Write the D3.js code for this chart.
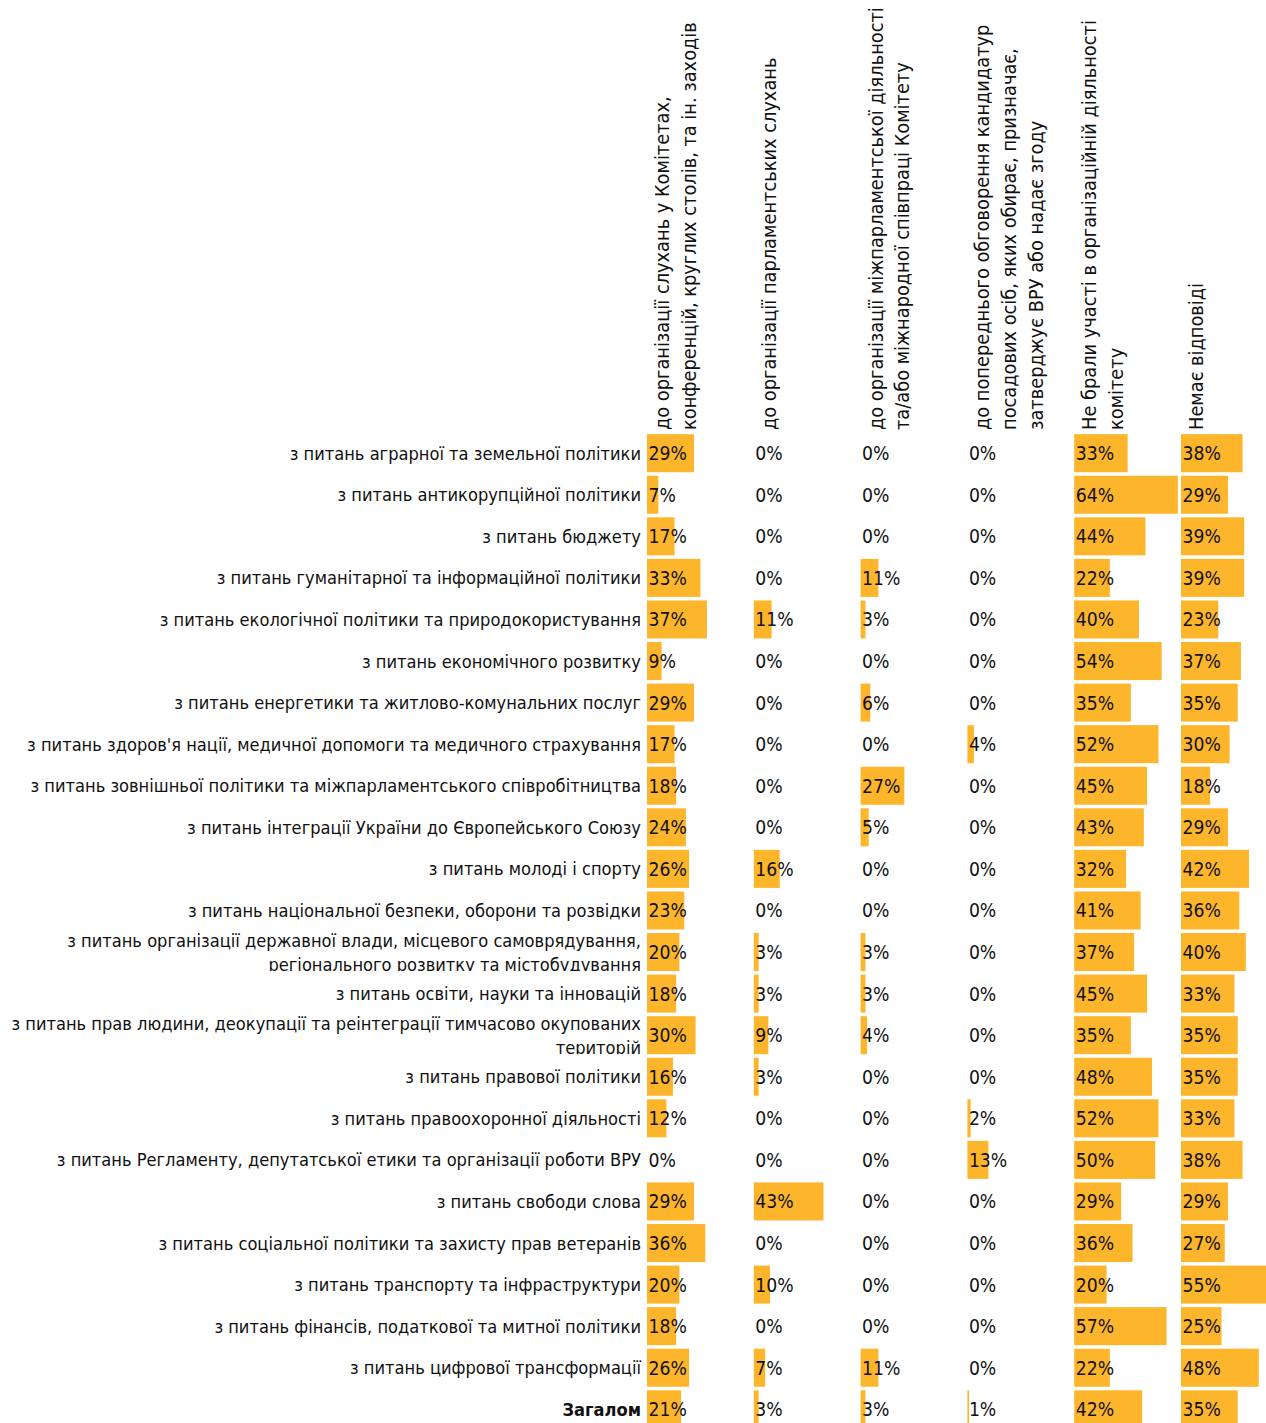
<!DOCTYPE html>
<html>
<head>
<meta charset="utf-8">
<script src="https://cdn.jsdelivr.net/npm/d3@7"></script>
<style>
  body { margin: 0; background: #fff; }
  svg text { font-family: "DejaVu Sans Condensed", "DejaVu Sans", sans-serif; fill: #111; }
</style>
</head>
<body>
<div id="chart"></div>
<script>
// committees (rows)
const committees = [
    "з питань аграрної та земельної політики",
    "з питань антикорупційної політики",
    "з питань бюджету",
    "з питань гуманітарної та інформаційної політики",
    "з питань екологічної політики та природокористування",
    "з питань економічного розвитку",
    "з питань енергетики та житлово-комунальних послуг",
    "з питань здоров'я нації, медичної допомоги та медичного страхування",
    "з питань зовнішньої політики та міжпарламентського співробітництва",
    "з питань інтеграції України до Європейського Союзу",
    "з питань молоді і спорту",
    "з питань національної безпеки, оборони та розвідки",
    "з питань організації державної влади, місцевого самоврядування,\nрегіонального розвитку та містобудування",
    "з питань освіти, науки та інновацій",
    "з питань прав людини, деокупації та реінтеграції тимчасово окупованих\nтериторій",
    "з питань правової політики",
    "з питань правоохоронної діяльності",
    "з питань Регламенту, депутатської етики та організації роботи ВРУ",
    "з питань свободи слова",
    "з питань соціальної політики та захисту прав ветеранів",
    "з питань транспорту та інфраструктури",
    "з питань фінансів, податкової та митної політики",
    "з питань цифрової трансформації",
    "Загалом"
];

// column headers, one array of lines each
const headers = [
    ["до організації слухань у Комітетах,", "конференцій, круглих столів, та ін. заходів"],
    ["до організації парламентських слухань"],
    ["до організації міжпарламентської діяльності", "та/або міжнародної співпраці Комітету"],
    ["до попереднього обговорення кандидатур", "посадових осіб, яких обирає, призначає,", "затверджує ВРУ або надає згоду"],
    ["Не брали участі в організаційній діяльності", "комітету"],
    ["Немає відповіді"]
];

// values, % (one array per column)
const hearings      = [29, 7, 17, 33, 37, 9, 29, 17, 18, 24, 26, 23, 20, 18, 30, 16, 12, 0, 29, 36, 20, 18, 26, 21];
const parlHearings  = [0, 0, 0, 0, 11, 0, 0, 0, 0, 0, 16, 0, 3, 3, 9, 3, 0, 0, 43, 0, 10, 0, 7, 3];
const interParl     = [0, 0, 0, 11, 3, 0, 6, 0, 27, 5, 0, 0, 3, 3, 4, 0, 0, 0, 0, 0, 0, 0, 11, 3];
const candidates    = [0, 0, 0, 0, 0, 0, 0, 4, 0, 0, 0, 0, 0, 0, 0, 0, 2, 13, 0, 0, 0, 0, 0, 1];
const noPart        = [33, 64, 44, 22, 40, 54, 35, 52, 45, 43, 32, 41, 37, 45, 35, 48, 52, 50, 29, 36, 20, 57, 22, 42];
const noAnswer      = [38, 29, 39, 39, 23, 37, 35, 30, 18, 29, 42, 36, 40, 33, 35, 35, 33, 38, 29, 27, 55, 25, 48, 35];

const series = [hearings, parlHearings, interParl, candidates, noPart, noAnswer];

const W = 1266, H = 1423;
const barColor = "#FDB52B";

const svg = d3.select("#chart").append("svg")
    .attr("width", W)
    .attr("height", H);

const y = d3.scaleBand()
    .domain(committees)
    .range([432.5, 1430])
    .paddingInner(0.085)
    .paddingOuter(0.04);

const x = d3.scaleBand()
    .domain(d3.range(series.length))
    .range([647, 647 + 106.8 * series.length]);

const w = d3.scaleLinear().domain([0, 100]).range([0, 162]);

// headers, rotated
const head = svg.selectAll(".head")
    .data(headers)
    .enter()
    .append("text")
    .attr("class", "head")
    .attr("transform", (d, i) => `translate(${x(i) + 22}, 430) rotate(-90)`)
    .style("font-size", "19.8px");

head.selectAll("tspan")
    .data(d => d)
    .enter()
    .append("tspan")
    .attr("x", 0)
    .attr("y", (d, i) => i * 26.7)
    .text(d => d);

// row labels, clipped to their band
const defs = svg.append("defs");
defs.selectAll("clipPath")
    .data(committees)
    .enter()
    .append("clipPath")
    .attr("id", (d, i) => "clip" + i)
    .append("rect")
    .attr("x", 0)
    .attr("y", d => y(d) - 2)
    .attr("width", 645)
    .attr("height", y.bandwidth() + 2);

const labels = svg.selectAll(".label")
    .data(committees)
    .enter()
    .append("text")
    .attr("class", "label")
    .attr("clip-path", (d, i) => `url(#clip${i})`)
    .attr("text-anchor", "end")
    .style("font-size", "18.1px")
    .style("font-weight", (d, i) => i === committees.length - 1 ? "bold" : "normal");

labels.each(function(d) {
    const lines = d.split("\n");
    const cy = y(d) + y.bandwidth() / 2;
    const first = lines.length === 1 ? cy + 6.5 : cy - 5;
    d3.select(this).selectAll("tspan")
        .data(lines)
        .enter()
        .append("tspan")
        .attr("x", 641)
        .attr("y", (l, k) => first + k * 24)
        .text(l => l);
});

// bars + value labels per column
series.forEach((vals, c) => {
    const g = svg.append("g").attr("class", "col" + c);

    g.selectAll("rect")
        .data(vals)
        .enter()
        .append("rect")
        .attr("x", x(c))
        .attr("y", (v, i) => y(committees[i]))
        .attr("width", v => w(v))
        .attr("height", y.bandwidth())
        .attr("fill", barColor);

    g.selectAll("text")
        .data(vals)
        .enter()
        .append("text")
        .attr("x", x(c) + 1.5)
        .attr("y", (v, i) => y(committees[i]) + y.bandwidth() / 2 + 7)
        .style("font-size", "19.2px")
        .text(v => v + "%");
});
</script>
</body>
</html>
